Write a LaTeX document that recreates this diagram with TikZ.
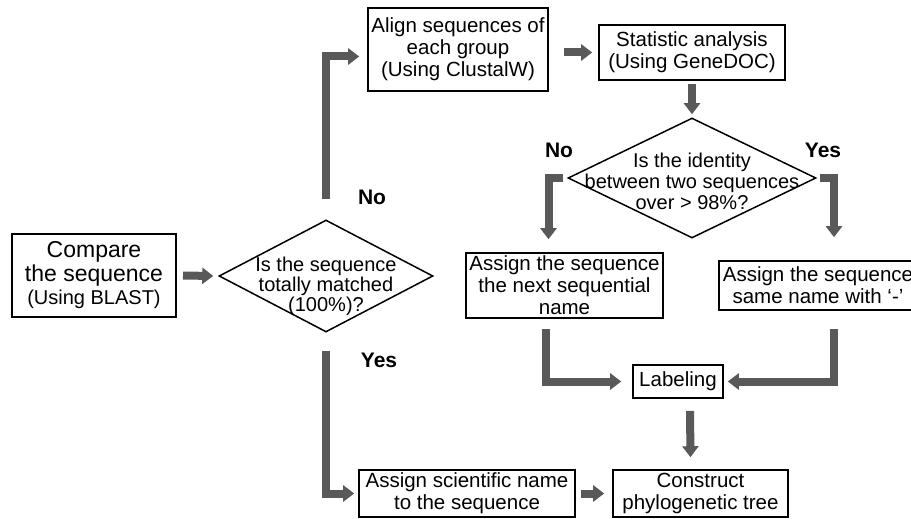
\documentclass[tikz,border=0pt]{standalone}
\usepackage{fontspec}
\setmainfont{Liberation Sans}
\usetikzlibrary{arrows.meta, shapes.geometric, positioning}

\begin{document}
\begin{tikzpicture}[
  x=1pt, y=-1pt,
  box/.style={draw, line width=1.6pt, inner sep=0pt, align=center, font=\fontsize{20.5}{22}\selectfont},
  decision/.style={draw, shape=diamond, line width=1.5pt, inner sep=0pt},
  qtext/.style={align=center, inner sep=0pt, font=\fontsize{20}{20}\selectfont},
  answer/.style={inner sep=0pt, font=\fontsize{21}{24}\selectfont\bfseries},
  bigarrow/.style={draw=black!65, line width=8pt, -{Triangle[width=16pt,length=11pt]}}
  ]
  \clip (0,0) rectangle (911,519);

  \node[box, line width=2pt, minimum width=164pt, minimum height=83pt, font=\fontsize{23}{23.5}\selectfont] (compare) at (94,275.5)
    {Compare\\the sequence\\{\fontsize{20}{22}\selectfont(Using BLAST)}};
  \node[decision, minimum width=214pt, minimum height=112pt] (d1) at (326,276) {};
  \node[qtext] (d1txt) at (326,286) {Is the sequence\\totally matched\\(100\%)?};

  \node[box, minimum width=180pt, minimum height=83pt] (align) at (458,49.5)
    {Align sequences of\\each group\\(Using ClustalW)};
  \node[box, minimum width=186pt, minimum height=55pt] (stat) at (692,52.5)
    {Statistic analysis\\(Using GeneDOC)};
  \node[decision, minimum width=248pt, minimum height=120pt] (d2) at (692,178) {};
  \node[qtext, font=\fontsize{20}{21}\selectfont] (d2txt) at (692,181) {Is the identity\\between two sequences\\over > 98\%?};

  \node[box, minimum width=197pt, minimum height=65pt] (next) at (564.5,285.5)
    {Assign the sequence\\the next sequential\\name};
  \node[box, minimum width=198pt, minimum height=49pt] (same) at (818,285.5)
    {Assign the sequence\\same name with `-'};
  \node[box, minimum width=90pt, minimum height=33pt] (label) at (678,381.5) {Labeling};
  \node[box, minimum width=216pt, minimum height=47pt] (sci) at (467,493.5)
    {Assign scientific name\\to the sequence};
  \node[box, minimum width=175pt, minimum height=47pt] (tree) at (700.5,493.5)
    {Construct\\phylogenetic tree};

  \node[answer] (no1) at (372,197) {No};
  \node[answer] (yes1) at (379,360) {Yes};
  \node[answer] (no2) at (559,150) {No};
  \node[answer] (yes2) at (823,150) {Yes};

  \draw[bigarrow] ([xshift=6pt]compare.east) -- ([xshift=-5pt]d1.west);
  \draw[bigarrow] ([yshift=20pt]d1.north) |- ([xshift=-8pt,yshift=-7pt]align.west);
  \draw[bigarrow] ([yshift=-18pt]d1.south) |- ([xshift=-4pt]sci.west);
  \draw[bigarrow] ([xshift=15pt,yshift=-3pt]align.east) -- ([xshift=-6pt]stat.west);
  \draw[bigarrow] ([yshift=-3pt]stat.south) -- ([yshift=3pt]d2.north);
  \draw[bigarrow] ([xshift=-4pt]d2.west) -| ([xshift=-16pt,yshift=13pt]next.north);
  \draw[bigarrow] ([xshift=3pt]d2.east) -| ([xshift=16pt,yshift=23pt]same.north);
  \draw[bigarrow] ([xshift=-19pt,yshift=-10pt]next.south) |- ([xshift=-11pt]label.west);
  \draw[bigarrow] ([xshift=16pt,yshift=-18pt]same.south) |- ([xshift=4pt]label.east);
  \draw[bigarrow] ([xshift=12pt,yshift=-12pt]label.south) -- ([xshift=-10pt,yshift=12pt]tree.north);
  \draw[bigarrow] ([xshift=5pt]sci.east) -- ([xshift=-8pt]tree.west);
\end{tikzpicture}
\end{document}
